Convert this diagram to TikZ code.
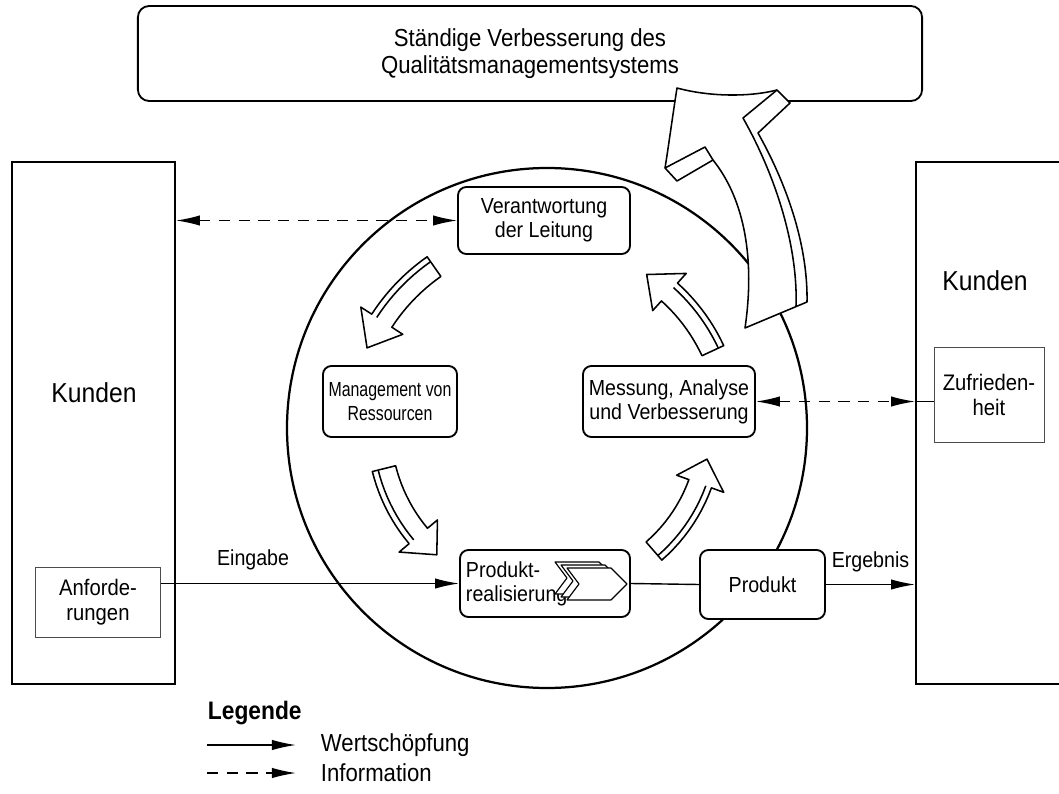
\documentclass[tikz,border=0pt]{standalone}
\usepackage{fontspec}
\setmainfont{Liberation Sans}[FakeStretch=0.9]
\usetikzlibrary{arrows.meta}

\tikzstyle{box}=[draw, line width=1.3pt, rounded corners=6pt, fill=white, align=center, inner sep=0pt, font=\fontsize{15.5}{17}\selectfont]
\tikzstyle{kunden}=[draw, line width=1.3pt, fill=white, inner sep=0pt]
\tikzstyle{subbox}=[draw=black!70, line width=0.7pt, fill=white, align=center, inner sep=0pt, font=\fontsize{16}{17.5}\selectfont]
\tikzstyle{flow}=[line width=1pt, -{Latex[length=6mm, width=2.6mm]}]
\tikzstyle{info}=[line width=1pt, dash pattern=on 8pt off 6pt, {Latex[length=6mm, width=2.6mm]}-{Latex[length=6mm, width=2.6mm]}]
\tikzstyle{hollow}=[draw, line width=1.1pt, fill=white, line join=round]
\tikzstyle{linktext}=[font=\fontsize{15.5}{17}\selectfont]
\tikzstyle{bigtext}=[font=\fontsize{19.5}{20}\selectfont]

% curved hollow arrow round the circle: radius, start, end of shaft, tip angle
\newcommand{\ringarrow}[4]{%
  \draw[hollow] plot[domain=#2:#3, samples=12] ({547+(#1+12)*cos(\x)}, {428+(#1+12)*sin(\x)})
    -- ({547+(#1+25)*cos(#3)}, {428+(#1+25)*sin(#3)})
    -- ({547+#1*cos(#4)}, {428+#1*sin(#4)})
    -- ({547+(#1-25)*cos(#3)}, {428+(#1-25)*sin(#3)})
    -- plot[domain=#3:#2, samples=12] ({547+(#1-12)*cos(\x)}, {428+(#1-12)*sin(\x)})
    -- cycle;
  \draw[hollow, fill=none] plot[domain=#2:#3, samples=12] ({547+(#1+6)*cos(\x)}, {428+(#1+6)*sin(\x)});
}
\newcommand{\chevron}[2]{\draw[hollow, line width=0.8pt] (#1,#2) -- ++(44,0) -- ++(16,16) -- ++(-16,16) -- ++(-44,0) -- ++(12,-16) -- cycle;}

\begin{document}
\begin{tikzpicture}[x=0.025cm, y=-0.025cm]
\useasboundingbox (0,0) rectangle (1059,794);

% process circle
\draw[line width=1.6pt] (547,428) circle [radius=260];

\node[box, rounded corners=8pt, minimum width=19.6cm, minimum height=2.375cm, font=\fontsize{17.5}{19.5}\selectfont] (ziel) at (530,53.5) {Ständige Verbesserung des\\Qualitätsmanagementsystems};

% big arrow into the top box
\draw[hollow] (677,88) .. controls (710,97) and (750,97) .. (777,90) -- (790,103) -- (758,133)
  .. controls (790,190) and (808,250) .. (807,302) -- (745,328)
  .. controls (755,260) and (745,200) .. (713,160) -- (677,181) -- (665,168)
  .. controls (668,150) and (672,120) .. (677,88) -- cycle;
\draw[hollow, fill=none] (665,168) -- (705,147) -- (713,160);
\draw[hollow, fill=none] (777,90) -- (743,118) .. controls (778,180) and (798,250) .. (796,306);

% customers
\node[kunden, minimum width=4.075cm, minimum height=13.05cm] (kundenL) at (93.5,423) {};
\node[bigtext] (kundenLtxt) at (94,393) {Kunden};
\node[subbox, minimum width=3.1cm, minimum height=1.75cm] (anf) at (98,602) {Anforde-\\rungen};

\node[kunden, minimum width=3.85cm, minimum height=13.05cm] (kundenR) at (993,423) {};
\node[bigtext] (kundenRtxt) at (985,281) {Kunden};
\node[subbox, minimum width=2.75cm, minimum height=2.35cm] (zuf) at (989,395) {Zufrieden-\\heit};

% processes
\node[box, minimum width=4.3cm, minimum height=1.675cm] (leitung) at (544,220.5) {Verantwortung\\der Leitung};
\node[box, minimum width=3.35cm, minimum height=1.775cm, font=\fontsize{14.5}{17}\selectfont\addfontfeature{FakeStretch=0.78}] (ressourcen) at (390,401.5) {Management von\\Ressourcen};
\node[box, minimum width=4.3cm, minimum height=1.775cm] (messung) at (669,401.5) {Messung, Analyse\\und Verbesserung};
\node[box, align=left, text width=3.95cm, inner xsep=0.15cm, minimum height=1.675cm] (realisierung) at (545,583.5) {Produkt-\\realisierung};
\node[box, minimum width=3.125cm, minimum height=1.725cm] (produkt) at (762.5,584.5) {Produkt};

\chevron{555}{562}
\chevron{561}{565}
\chevron{567}{568}

\ringarrow{197}{-125}{-147}{-156}
\ringarrow{168}{166}{140}{131}
\ringarrow{163}{49}{20}{11}
\ringarrow{183}{-25}{-48}{-57}

% connectors
\draw[info] (kundenL.east |- leitung.west) -- (leitung.west);
\draw[info] (messung.east) -- (kundenR.west |- messung.east);
\draw[line width=0.7pt] (kundenR.west |- messung.east) -- (zuf.west |- messung.east);
\draw[flow] (anf.east |- realisierung.west) -- (realisierung.west) node[linktext, pos=0.31, above=6pt] {Eingabe};
\draw[line width=1pt] (realisierung.east) -- (produkt.west);
\draw[flow] (produkt.east) -- (kundenR.west |- produkt.east) node[linktext, midway, above=5pt] {Ergebnis};

% legend
\node[anchor=west, font=\bfseries\fontsize{18}{20}\selectfont] (legende) at (203,713) {Legende};
\coordinate (wsA) at (207,745);
\coordinate (wsB) at (296,745);
\coordinate (inA) at (207,773);
\coordinate (inB) at (296,773);
\draw[flow] (wsA) -- (wsB);
\draw[line width=1pt, dash pattern=on 8pt off 6pt, -{Latex[length=6mm, width=2.6mm]}] (inA) -- (inB);
\node[anchor=west, font=\fontsize{17.5}{19}\selectfont] (wstxt) at (316,745) {Wertschöpfung};
\node[anchor=west, font=\fontsize{17.5}{19}\selectfont] (intxt) at (316,773) {Information};
\end{tikzpicture}
\end{document}
